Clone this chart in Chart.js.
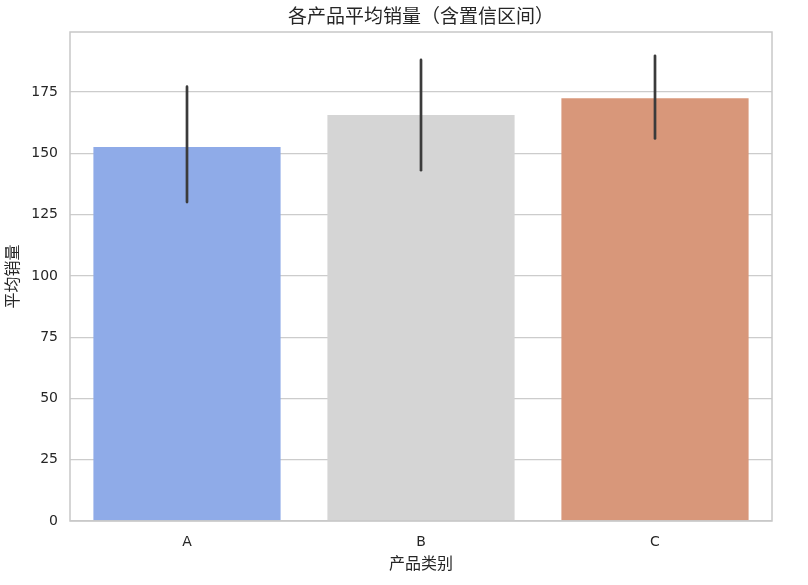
<!DOCTYPE html>
<html><head><meta charset="utf-8">
<script src="https://cdn.jsdelivr.net/npm/chart.js@4"></script>
<style>html,body{margin:0;padding:0;background:#fff;}#wrap{width:808px;height:585px;}</style>
</head><body><div id="wrap"><canvas id="c" width="808" height="585"></canvas></div>
<script>
const categories = ["A", "B", "C"];
const meanValues = [152.6, 165.6, 172.5];
const ciLow = [130.1, 143.1, 156.1];
const ciHigh = [177.2, 188.1, 189.8];
const barColors = ["#8fabe8", "#d5d5d5", "#d8977a"];
const yTicks = [0, 25, 50, 75, 100, 125, 150, 175];
const titleText = "各产品平均销量（含置信区间）";
const xTitle = "产品类别";
const yTitle = "平均销量";

const FONT = '"DejaVu Sans", "Noto Sans CJK SC", sans-serif';

const decor = {
  id: 'decor',
  afterDatasetsDraw(chart) {
    const ctx = chart.ctx, y = chart.scales.y;
    const meta = chart.getDatasetMeta(0);
    ctx.save();
    ctx.strokeStyle = '#3b3b3b';
    ctx.lineWidth = 2.7;
    ctx.lineCap = 'round';
    meta.data.forEach((bar, i) => {
      ctx.beginPath();
      ctx.moveTo(bar.x, y.getPixelForValue(ciLow[i]));
      ctx.lineTo(bar.x, y.getPixelForValue(ciHigh[i]));
      ctx.stroke();
    });
    const a = chart.chartArea;
    ctx.strokeStyle = '#c8c8c8';
    ctx.lineWidth = 1.5;
    ctx.lineCap = 'butt';
    ctx.strokeRect(a.left, a.top, a.right - a.left, a.bottom - a.top);
    ctx.fillStyle = '#262626';
    ctx.font = '19px ' + FONT;
    ctx.textAlign = 'center';
    ctx.textBaseline = 'middle';
    ctx.fillText(titleText, (a.left + a.right) / 2, 18.5);
    ctx.restore();
  }
};

new Chart(document.getElementById('c'), {
  type: 'bar',
  data: {
    labels: categories,
    datasets: [{
      data: meanValues,
      backgroundColor: barColors,
      borderWidth: 0,
      barPercentage: 0.8,
      categoryPercentage: 1.0
    }]
  },
  options: {
    responsive: false,
    animation: false,
    layout: { padding: { top: 32, right: 36, left: 0, bottom: 0 } },
    plugins: { legend: { display: false }, tooltip: { enabled: false }, title: { display: false } },
    scales: {
      x: {
        grid: { display: false, drawTicks: false },
        border: { display: false },
        ticks: { color: '#262626', font: { family: FONT, size: 14 }, padding: 13 },
        title: { display: true, text: xTitle, color: '#262626', font: { family: FONT, size: 16 }, padding: { top: 2, bottom: 11 } },
        afterFit(s) { s.height = 64; }
      },
      y: {
        min: 0, max: 199.5,
        afterBuildTicks(s) { s.ticks = yTicks.map(v => ({ value: v })); },
        grid: { color: '#cccccc', lineWidth: 1.3, drawTicks: false },
        border: { display: false },
        ticks: { color: '#262626', font: { family: FONT, size: 14 }, padding: 12 },
        title: { display: true, text: yTitle, color: '#262626', font: { family: FONT, size: 16 }, padding: { top: 4, bottom: 0 } },
        afterFit(s) { s.width = 70; }
      }
    }
  },
  plugins: [decor]
});
</script></body></html>
